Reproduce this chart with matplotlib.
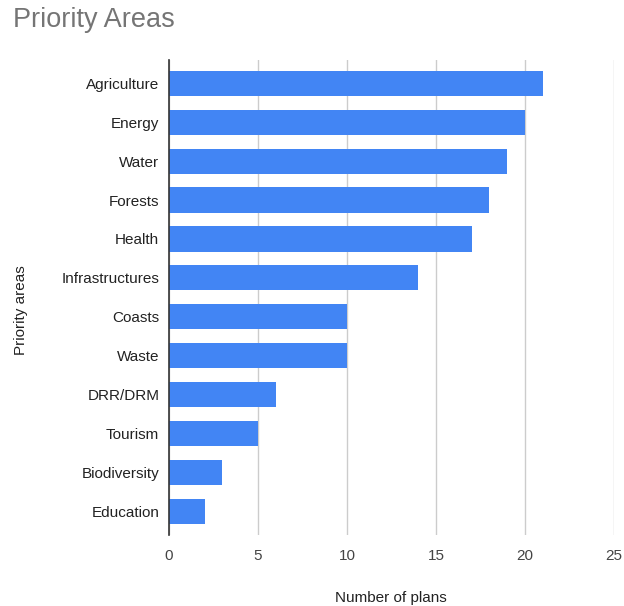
import matplotlib
matplotlib.use("Agg")
import matplotlib.pyplot as plt

categories = ["Agriculture", "Energy", "Water", "Forests", "Health", "Infrastructures",
              "Coasts", "Waste", "DRR/DRM", "Tourism", "Biodiversity", "Education"]
plans = [21, 20, 19, 18, 17, 14, 10, 10, 6, 5, 3, 2]
x_ticks = [0, 5, 10, 15, 20, 25]

plt.rcParams["font.family"] = ["Liberation Sans", "DejaVu Sans"]

fig = plt.figure(figsize=(6.24, 6.06), dpi=100)
ax = fig.add_axes([169 / 624, 1 - 535 / 606, (614 - 169) / 624, (535 - 60) / 606])

ypos = list(range(len(categories)))
ax.barh(ypos, plans, height=0.65, color="#4285F4", zorder=3)

ax.set_xlim(0, 25)
ax.set_ylim(len(categories) - 0.39, -0.6)
ax.set_yticks(ypos)
ax.set_yticklabels(categories, fontsize=11, color="#222222")
ax.set_xticks(x_ticks)
ax.set_xticklabels([str(t) for t in x_ticks], fontsize=11, color="#444444")
ax.tick_params(axis="both", length=0)
ax.tick_params(axis="y", pad=7)
ax.tick_params(axis="x", pad=10)

ax.grid(axis="x", color="#cccccc", linewidth=1, zorder=0)
for side in ["top", "right", "bottom"]:
    ax.spines[side].set_visible(False)
ax.spines["left"].set_color("#333333")
ax.spines["left"].set_linewidth(1.2)
ax.spines["left"].set_zorder(4)

fig.text(391 / 624, 1 - 598 / 606, "Number of plans", ha="center", va="center",
         fontsize=11, color="#222222")
fig.text(21 / 624, 1 - 310 / 606, "Priority areas", ha="center", va="center",
         rotation=90, fontsize=11, color="#222222")
fig.text(13 / 624, 1 - 20 / 606, "Priority Areas", ha="left", va="center",
         fontsize=19.5, color="#757575")

fig.savefig("out.png", dpi=100)
